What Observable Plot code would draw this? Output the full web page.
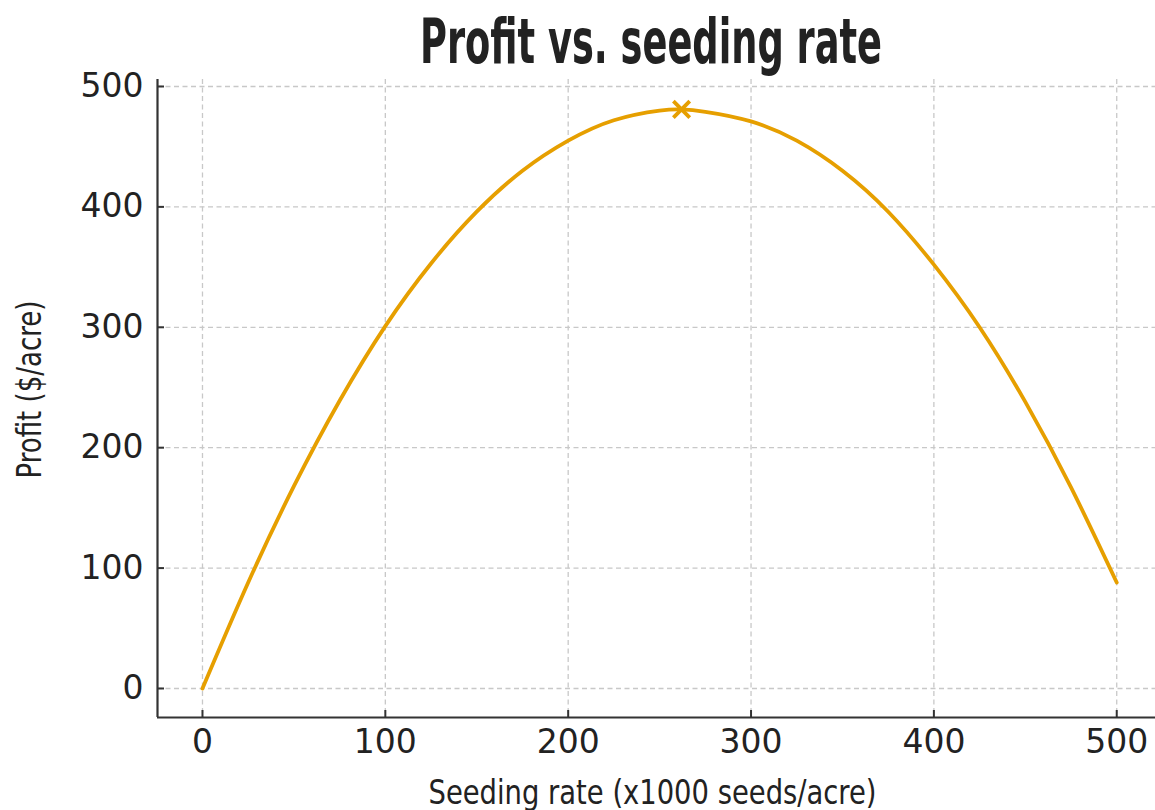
<!DOCTYPE html>
<html>
<head>
<meta charset="utf-8">
<script src="https://cdn.jsdelivr.net/npm/d3@7"></script>
<script src="https://cdn.jsdelivr.net/npm/@observablehq/plot@0.6"></script>
<style>
  html, body { margin: 0; padding: 0; background: #fff; }
  #wrap { width: 1155px; height: 810px; overflow: hidden; position: relative; }
  #title {
    position: absolute; left: 0; top: 0; width: 1155px; height: 76px; z-index: 2;
    font-family: "Liberation Sans Narrow", "DejaVu Sans Condensed", "Roboto Condensed", sans-serif;
    font-weight: bold; font-size: 62px; line-height: 62px; color: #222;
  }
  #title span { position: absolute; left: 651px; top: 10.5px; white-space: nowrap; transform-origin: 0 0; }
  #chart { position: absolute; left: 0; top: 0; }
</style>
</head>
<body>
<div id="wrap">
  <div id="chart"></div>
  <div id="title"><span id="titleText">Profit vs. seeding rate</span></div>
</div>
<script>
// Data
const seedingRate = [0, 25, 50, 75, 100, 125, 150, 175, 200, 225, 250, 262, 275, 300, 325, 350, 375, 400, 425, 450, 475, 500];
const profit      = [0, 88, 168, 239, 301, 353, 396, 430, 455, 472, 480, 481, 479, 471, 455, 430, 396, 352, 300, 238, 167, 88];
const optimum = {rate: 262, profit: 481};
const xTicks = [0, 100, 200, 300, 400, 500];
const yTicks = [0, 100, 200, 300, 400, 500];
const titleText = "Profit vs. seeding rate";
const xLabel = "Seeding rate (x1000 seeds/acre)";
const yLabel = "Profit ($/acre)";

const data = seedingRate.map((r, i) => ({rate: r, profit: profit[i]}));

const narrow = `"Liberation Sans Narrow", "DejaVu Sans Condensed", "Roboto Condensed", sans-serif`;
const tickFont = `"DejaVu Sans", sans-serif`;
const xDomain = [-24.6, 521.2];
const yDomain = [-24.1, 505.8];
const orange = "#E69F00";
const ink = "#333333";

document.getElementById("titleText").textContent = titleText;

const chart = Plot.plot({
  width: 1155,
  height: 810,
  marginLeft: 157,
  marginRight: 0,
  marginTop: 79,
  marginBottom: 93,
  style: {background: "transparent", overflow: "visible"},
  x: {domain: xDomain},
  y: {domain: yDomain},
  marks: [
    Plot.gridX(xTicks, {stroke: "#c8c8c8", strokeOpacity: 1, strokeWidth: 1.3, strokeDasharray: "5,3.5"}),
    Plot.gridY(yTicks, {stroke: "#c8c8c8", strokeOpacity: 1, strokeWidth: 1.3, strokeDasharray: "5,3.5"}),
    Plot.axisX(xTicks, {tickSize: -7, tickPadding: 19.5, stroke: ink, strokeWidth: 2, fill: "#222", fontSize: 33, fontFamily: tickFont, label: null}),
    Plot.axisY(yTicks, {tickSize: -7, tickPadding: 21, stroke: ink, strokeWidth: 2, fill: "#222", fontSize: 33, fontFamily: tickFont, label: null}),
    Plot.ruleY([yDomain[0]], {stroke: ink, strokeWidth: 2.2}),
    Plot.ruleX([xDomain[0]], {stroke: ink, strokeWidth: 2.2}),
    Plot.line(data, {x: "rate", y: "profit", curve: "natural", stroke: orange, strokeWidth: 3.8}),
    Plot.dot([optimum], {x: "rate", y: "profit", symbol: "times", r: 7.5, stroke: orange, strokeWidth: 3.8}),
    Plot.text([xLabel], {text: d => d, frameAnchor: "bottom", textAnchor: "middle", dx: -4, dy: 86, lineAnchor: "bottom", fontFamily: narrow, fontSize: 34, fill: "#222", className: "xlab"}),
    Plot.text([yLabel], {text: d => d, frameAnchor: "left", textAnchor: "middle", rotate: -90, dx: -117, dy: -9, lineAnchor: "bottom", fontFamily: narrow, fontSize: 34, fill: "#222", className: "ylab"})
  ]
});
document.getElementById("chart").appendChild(chart);

// Fit the condensed-looking texts to the widths seen in the reference
chart.querySelectorAll("text").forEach(t => {
  if (t.textContent === xLabel) { t.setAttribute("textLength", 448); t.setAttribute("lengthAdjust", "spacingAndGlyphs"); }
  if (t.textContent === yLabel) { t.setAttribute("textLength", 178); t.setAttribute("lengthAdjust", "spacingAndGlyphs"); }
});
const span = document.getElementById("titleText");
const w = span.getBoundingClientRect().width;
const k = 462 / w;
span.style.transform = `scaleX(${k}) translateX(-50%)`;
</script>
</body>
</html>
